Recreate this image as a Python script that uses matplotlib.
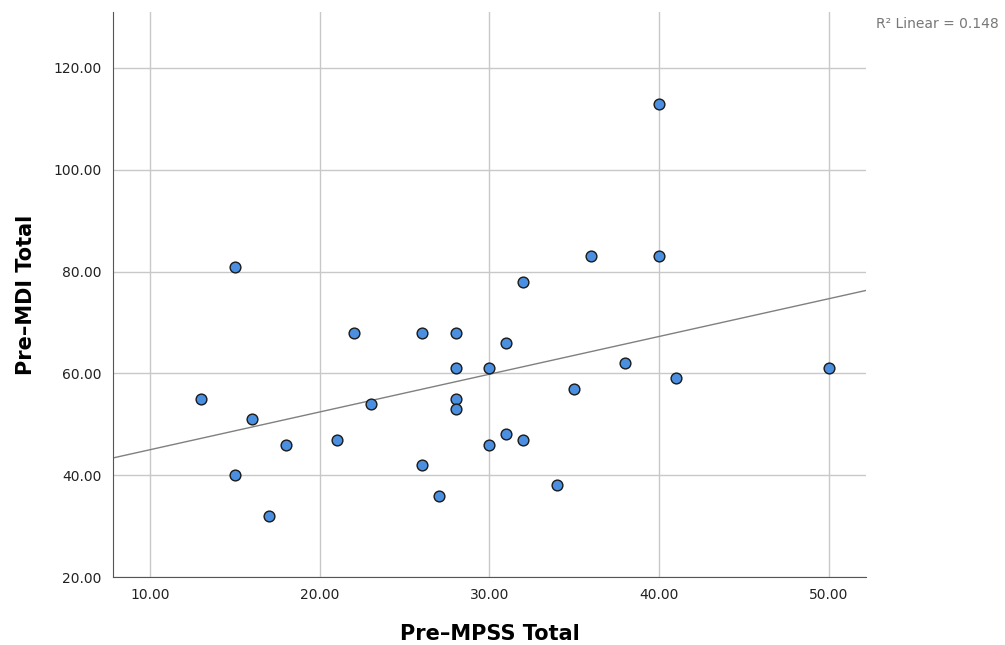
import numpy as np
import matplotlib.pyplot as plt

# Pre-MPSS Total vs Pre-MDI Total
mpss = [40, 36, 40, 15, 32, 22, 26, 28, 31, 38, 28, 30, 50, 41, 35,
        13, 28, 23, 28, 16, 31, 21, 32, 18, 30, 26, 15, 34, 27, 17]
mdi = [113, 83, 83, 81, 78, 68, 68, 68, 66, 62, 61, 61, 61, 59, 57,
       55, 55, 54, 53, 51, 48, 47, 47, 46, 46, 42, 40, 38, 36, 32]

x = np.array(mpss, dtype=float)
y = np.array(mdi, dtype=float)
slope, icpt = np.polyfit(x, y, 1)
r2 = np.corrcoef(x, y)[0, 1] ** 2

fig = plt.figure(figsize=(10.05, 6.45), dpi=100)
ax = fig.add_axes([0.1124, 0.1054, 0.7493, 0.876])

xmin, xmax = 7.8, 52.2
ax.set_xlim(xmin, xmax)
ax.set_ylim(20, 131)

ax.grid(True, color="#c8c8c8", linewidth=1)
ax.set_axisbelow(True)

xs = np.array([xmin, xmax])
ax.plot(xs, icpt + slope * xs, color="#808080", linewidth=1, zorder=2)

ax.scatter(x, y, s=60, color="#4a8fe0", edgecolors="#1a1a1a", linewidths=1, zorder=3)

ax.set_xticks([10, 20, 30, 40, 50])
ax.set_yticks([20, 40, 60, 80, 100, 120])
ax.xaxis.set_major_formatter(plt.FormatStrFormatter("%.2f"))
ax.yaxis.set_major_formatter(plt.FormatStrFormatter("%.2f"))
ax.tick_params(length=0, labelsize=10, colors="#222222", pad=8)

for s in ["top", "right"]:
    ax.spines[s].set_visible(False)
for s in ["left", "bottom"]:
    ax.spines[s].set_color("#555555")

ax.set_xlabel("Pre\u2013MPSS Total", fontsize=15, fontweight="bold", labelpad=16)
ax.set_ylabel("Pre\u2013MDI Total", fontsize=15, fontweight="bold", labelpad=13)

fig.text(0.994, 0.963, "R\u00b2 Linear = %.3f" % r2, ha="right", va="center",
         fontsize=10, color="#777777")

fig.savefig("out.png", dpi=100)
